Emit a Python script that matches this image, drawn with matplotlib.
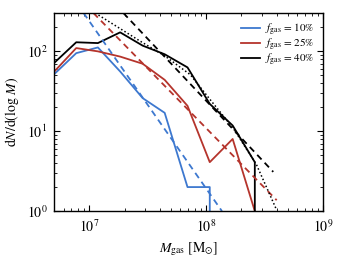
import matplotlib
matplotlib.use('Agg')
import matplotlib.pyplot as plt

plt.rcParams['font.family'] = 'STIXGeneral'
plt.rcParams['mathtext.fontset'] = 'stix'

# bin centres (gas mass, Msun)
mass = [5.0e6, 7.7e6, 1.18e7, 1.83e7, 2.85e7, 4.4e7, 6.9e7, 1.07e8, 1.68e8, 2.6e8, 4.0e8]

# dN/dlogM for each gas fraction
n_10 = [52, 95, 112, 56, 26, 17, 2.0, 2.0, 0, 0, 0]
n_25 = [56, 110, 100, 86, 70, 44, 20.8, 4.1, 8.0, 1.0, 0]
n_40 = [72, 130, 127, 173, 118, 92, 63, 22, 11.8, 4.1, 0]

# power-law fits (end points)
fit_10_x = [8.9e6, 1.36e8]
fit_10_y = [302, 1.0]
fit_25_x = [1.08e7, 4.0e8]
fit_25_y = [302, 1.37]
fit_40_x = [1.95e7, 3.74e8]
fit_40_y = [302, 3.1]

# curved fit for 40%
curve_40_x = [1.12e7, 2.72e7, 4.4e7, 7.3e7, 1.08e8, 1.7e8, 2.69e8, 4.0e8]
curve_40_y = [302, 134, 88, 51, 24.8, 10.9, 3.8, 1.03]

labels = [r'$f_{\rm gas}$ = 10%', r'$f_{\rm gas}$ = 25%', r'$f_{\rm gas}$ = 40%']
colors = ['#3d78cf', '#b5342c', 'black']

fig = plt.figure(figsize=(3.46, 2.60), dpi=100)
ax = fig.add_axes([0.157, 0.188, 0.777, 0.761])

for n, lab, c in zip([n_10, n_25, n_40], labels, colors):
    ax.plot(mass, n, color=c, lw=1.3, label=lab)

ax.plot(fit_10_x, fit_10_y, color=colors[0], lw=1.3, ls=(0, (3.5, 2.5)))
ax.plot(fit_25_x, fit_25_y, color=colors[1], lw=1.3, ls=(0, (3.5, 2.5)))
ax.plot(fit_40_x, fit_40_y, color=colors[2], lw=1.3, ls=(0, (3.5, 2.5)))
ax.plot(curve_40_x, curve_40_y, color='black', lw=1.1, ls=(0, (1, 1.5)))

ax.set_xscale('log')
ax.set_yscale('log', nonpositive='clip')
ax.set_xlim(5e6, 1e9)
ax.set_ylim(1, 300)

ax.tick_params(which='both', direction='in', top=True, right=True, labelsize=10)
ax.tick_params(which='major', length=4, pad=5)
ax.tick_params(which='minor', length=2)
for s in ax.spines.values():
    s.set_linewidth(1.0)

ax.set_xlabel(r'$M_{\rm gas}$ [M$_{\odot}$]', fontsize=10)
ax.set_ylabel(r'd$N$/d(log $M$)', fontsize=10)

ax.legend(loc='upper right', frameon=False, fontsize=8, handlelength=1.7,
          handletextpad=0.5, labelspacing=-0.1, borderaxespad=0.35)

fig.savefig('out.png', dpi=100)
